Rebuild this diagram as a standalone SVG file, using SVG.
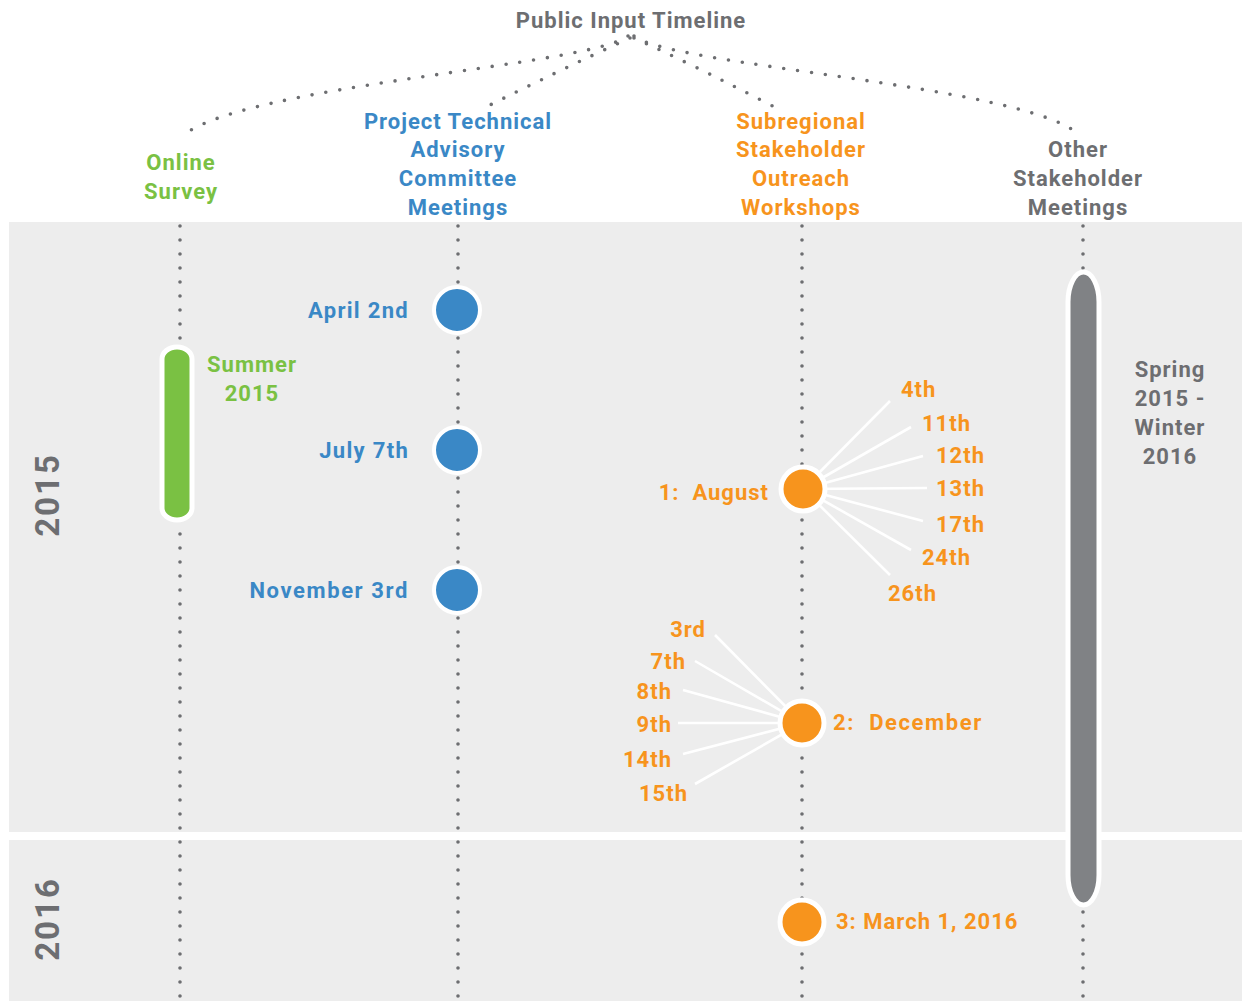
<svg xmlns="http://www.w3.org/2000/svg" width="1242" height="1001" viewBox="0 0 1242 1001">
<style>
text{font-family:Roboto,"Liberation Sans",sans-serif;font-weight:700;font-size:22px;letter-spacing:1px}
.g{fill:#7ac143}.b{fill:#3a88c6}.o{fill:#f7941d}.k{fill:#6d6e71}
.m{text-anchor:middle}.e{text-anchor:end}
.dot{fill:none;stroke:#6d6e71;stroke-width:3.6;stroke-linecap:round;stroke-dasharray:0 14}
.sp{stroke:#ffffff;stroke-width:2.6}
.ring{stroke:#ffffff;stroke-width:5}
.bc{fill:#3a88c6;stroke:#ffffff;stroke-width:4}
</style>
<rect x="0" y="0" width="1242" height="1001" fill="#ffffff"/>
<rect id="panel-2015" x="9" y="222" width="1233" height="610" fill="#ededed"/>
<rect id="panel-2016" x="9" y="840" width="1233" height="161" fill="#ededed"/>
<g id="connectors">
<path class="dot" d="M628 36 C590 66 240 85 181 137"/>
<path class="dot" d="M630 38 Q560 70 480 110"/>
<path class="dot" d="M634 38 Q704 70 780 110"/>
<path class="dot" d="M634 36 C672 66 1018 85 1077 133"/>
<path class="dot" d="M180 226 V1001"/>
<path class="dot" d="M458 226 V1001"/>
<path class="dot" d="M802 226 V1001"/>
<path class="dot" d="M1083 226 V1001"/>
<g class="sp">
<line x1="803" y1="489" x2="890" y2="401"/>
<line x1="803" y1="489" x2="911" y2="427"/>
<line x1="803" y1="489" x2="923" y2="456"/>
<line x1="803" y1="489" x2="927" y2="488"/>
<line x1="803" y1="489" x2="923" y2="521"/>
<line x1="803" y1="489" x2="911" y2="550"/>
<line x1="803" y1="489" x2="890" y2="575"/>
<line x1="802" y1="723" x2="715" y2="635"/>
<line x1="802" y1="723" x2="695" y2="661"/>
<line x1="802" y1="723" x2="683" y2="690"/>
<line x1="802" y1="723" x2="678" y2="723"/>
<line x1="802" y1="723" x2="683" y2="754"/>
<line x1="802" y1="723" x2="695" y2="784"/>
</g>
</g>
<g id="title"><text class="k m" x="631" y="28">Public Input Timeline</text></g>
<g id="year-2015"><text class="k m" transform="translate(59 495) rotate(-90)" style="font-size:33px;letter-spacing:2px">2015</text></g>
<g id="year-2016"><text class="k m" transform="translate(59 919) rotate(-90)" style="font-size:33px;letter-spacing:2px">2016</text></g>
<g id="online-survey">
<text class="g m" x="181" y="170">Online</text>
<text class="g m" x="181" y="199">Survey</text>
</g>
<g id="ptac">
<text class="b m" x="458" y="129">Project Technical</text>
<text class="b m" x="458" y="157">Advisory</text>
<text class="b m" x="458" y="186">Committee</text>
<text class="b m" x="458" y="215">Meetings</text>
</g>
<g id="ssow">
<text class="o m" x="801" y="129">Subregional</text>
<text class="o m" x="801" y="157">Stakeholder</text>
<text class="o m" x="801" y="186">Outreach</text>
<text class="o m" x="801" y="215">Workshops</text>
</g>
<g id="other">
<text class="k m" x="1078" y="157">Other</text>
<text class="k m" x="1078" y="186">Stakeholder</text>
<text class="k m" x="1078" y="215">Meetings</text>
</g>
<g id="summer-2015">
<rect class="ring" x="162" y="347" width="30" height="173" rx="15" ry="12" fill="#7ac143"/>
<text class="g m" x="252" y="372">Summer</text>
<text class="g m" x="252" y="401">2015</text>
</g>
<g id="april-2nd">
<circle class="bc" cx="457" cy="310" r="23"/>
<text class="b e" x="409" y="318" style="letter-spacing:1.3px">April 2nd</text>
</g>
<g id="july-7th">
<circle class="bc" cx="457" cy="450" r="23"/>
<text class="b e" x="409" y="458" style="letter-spacing:1.3px">July 7th</text>
</g>
<g id="november-3rd">
<circle class="bc" cx="457" cy="590" r="23"/>
<text class="b e" x="409" y="598" style="letter-spacing:1.6px">November 3rd</text>
</g>
<g id="august">
<circle class="ring" cx="803" cy="489" r="22" fill="#f7941d"/>
<text class="o e" x="769" y="500" xml:space="preserve">1:  August</text>
<text class="o" x="901" y="397">4th</text>
<text class="o" x="922" y="431">11th</text>
<text class="o" x="936" y="463">12th</text>
<text class="o" x="936" y="496">13th</text>
<text class="o" x="936" y="532">17th</text>
<text class="o" x="922" y="565">24th</text>
<text class="o" x="888" y="601">26th</text>
</g>
<g id="december">
<circle class="ring" cx="802" cy="723" r="22" fill="#f7941d"/>
<text class="o" x="833" y="730" xml:space="preserve" style="letter-spacing:1.6px">2:  December</text>
<text class="o e" x="706" y="637">3rd</text>
<text class="o e" x="686" y="669">7th</text>
<text class="o e" x="672" y="699">8th</text>
<text class="o e" x="672" y="732">9th</text>
<text class="o e" x="672" y="767">14th</text>
<text class="o e" x="688" y="801">15th</text>
</g>
<g id="march-2016">
<circle class="ring" cx="802" cy="922" r="22" fill="#f7941d"/>
<text class="o" x="836" y="929">3: March 1, 2016</text>
</g>
<g id="spring-winter">
<rect class="ring" x="1068" y="272" width="31" height="633" rx="15.5" ry="30" fill="#808285"/>
<text class="k m" x="1170" y="377">Spring</text>
<text class="k m" x="1170" y="406">2015 -</text>
<text class="k m" x="1170" y="435">Winter</text>
<text class="k m" x="1170" y="464">2016</text>
</g>
</svg>
